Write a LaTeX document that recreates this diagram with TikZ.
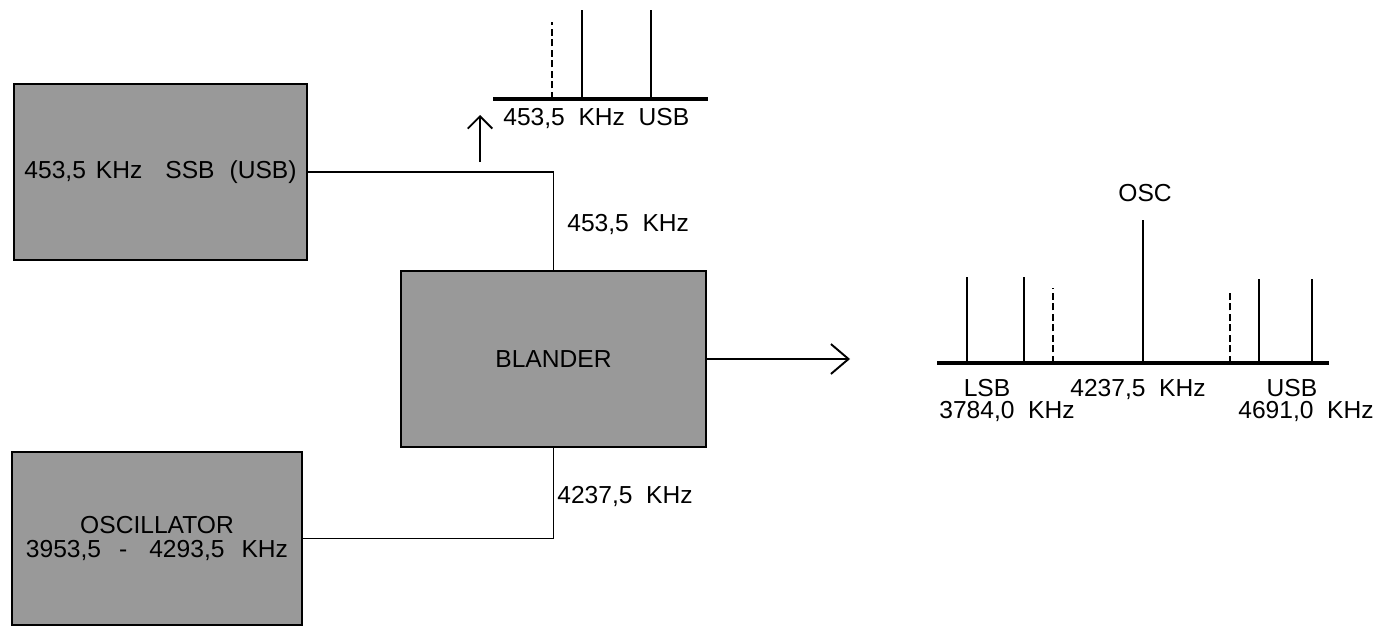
\documentclass[tikz,border=0pt]{standalone}
\usepackage{fontspec}
\setmainfont{Liberation Sans}
\usetikzlibrary{arrows.meta}

\begin{document}
\begin{tikzpicture}[x=0.02cm, y=-0.02cm,
  every node/.style={font=\fontsize{14}{13.5}\selectfont, inner sep=0pt},
  block/.style={draw, line width=1.6pt, fill=black!40, align=center},
  wire/.style={line width=1.1pt},
  arrow/.style={line width=1.1pt, -{Straight Barb[length=10pt,width=17pt]}},
  tap/.style={line width=1.1pt, -{Straight Barb[length=7pt,width=14pt]}},
  axis/.style={line width=1.8pt},
  carrier/.style={line width=1.2pt},
  sideband/.style={line width=1.6pt, dash pattern=on 4pt off 2pt}
]
\useasboundingbox (0,0) rectangle (1379,629);

% blocks
\node[block, minimum width=5.86cm, minimum height=3.52cm] (ssb) at (160.5,172)
  {453,5\hspace{0.2cm}KHz\hspace{0.46cm}SSB\hspace{0.3cm}(USB)};
\node[block, minimum width=6.1cm, minimum height=3.52cm] (mix) at (553.5,359) {BLANDER};
\node[block, minimum width=5.8cm, minimum height=3.46cm] (osc) at (157,538.5)
  {OSCILLATOR\\3953,5\hspace{0.36cm}-\hspace{0.44cm}4293,5\hspace{0.34cm}KHz};

\coordinate (out) at (850,359);
\coordinate (tap) at (480,162);
\coordinate (tapend) at (480,115);

\draw[wire] (ssb.east) -| (mix.north);
\draw[wire] (osc.east) -| (mix.south);
\draw[arrow] (mix.east) -- (out);
\draw[tap] (tap) -- (tapend);

\node[anchor=base west] (iflabel) at (567,231.5) {453,5~~KHz};
\node[anchor=base west] (osclabel) at (557,503) {4237,5~~KHz};

% spectrum at 453,5 KHz
\coordinate (ifl) at (493,99);
\coordinate (ifr) at (708,99);
\draw[axis] (ifl) -- (ifr);
\draw[sideband] (552,99) -- (552,22);
\foreach \f in {582,651}
  \draw[carrier] (\f,99) -- (\f,10);
\node[anchor=base west] (iftext) at (503,125.5) {453,5~~KHz~~USB};

% spectrum at the mixer output
\coordinate (rfl) at (937,363);
\coordinate (rfr) at (1329,363);
\draw[axis, line width=2.2pt] (rfl) -- (rfr);
\foreach \f/\h in {967/277,1024/277,1259/279,1312/279}
  \draw[carrier] (\f,363) -- (\f,\h);
\draw[carrier] (1143,363) -- (1143,220);
\foreach \f/\h in {1053/288,1230/290}
  \draw[sideband] (\f,363) -- (\f,\h);

\node[anchor=base] (osctext) at (1145,201.5) {OSC};
\node[anchor=base] (lsb) at (987,396.5) {LSB};
\node[anchor=base] (carr) at (1138,396.5) {4237,5~~KHz};
\node[anchor=base] (usb) at (1292,396.5) {USB};
\node[anchor=base] (lsbf) at (1007,418.5) {3784,0~~KHz};
\node[anchor=base] (usbf) at (1306,418.5) {4691,0~~KHz};
\end{tikzpicture}
\end{document}
